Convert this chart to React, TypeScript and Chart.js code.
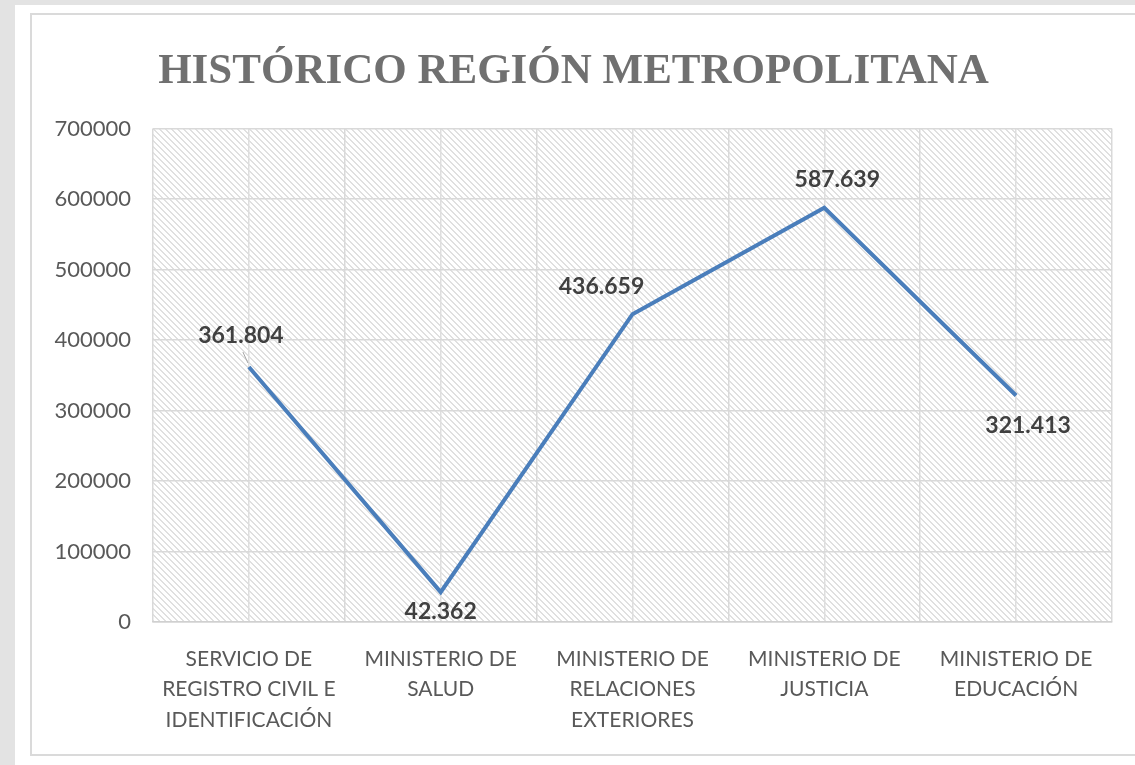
import React, { useEffect, useRef } from "react";
import { Chart, registerables } from "chart.js";

Chart.register(...registerables);

const titleText = "HISTÓRICO REGIÓN METROPOLITANA";
const categories: string[][] = [
  ["SERVICIO DE", "REGISTRO CIVIL E", "IDENTIFICACIÓN"],
  ["MINISTERIO DE", "SALUD"],
  ["MINISTERIO DE", "RELACIONES", "EXTERIORES"],
  ["MINISTERIO DE", "JUSTICIA"],
  ["MINISTERIO DE", "EDUCACIÓN"],
];
const values: number[] = [361804, 42362, 436659, 587639, 321413];
const yMin = 0;
const yMax = 700000;
const yStep = 100000;

const formatThousands = (v: number) =>
  String(v).replace(/\B(?=(\d{3})+(?!\d))/g, ".");

function makeHatch(): CanvasPattern | string {
  const s = 6;
  const c = document.createElement("canvas");
  c.width = s;
  c.height = s;
  const ctx = c.getContext("2d");
  if (!ctx) return "#f0f0f0";
  ctx.fillStyle = "#ffffff";
  ctx.fillRect(0, 0, s, s);
  ctx.fillStyle = "#e0e0e0";
  for (let i = 0; i < s; i++) {
    ctx.fillRect(i, i, 1, 1);
    ctx.fillRect((i + 1) % s, i, 1, 1);
  }
  const p = ctx.createPattern(c, "repeat");
  return p || "#f0f0f0";
}

const hatchPlugin = {
  id: "hatchBg",
  beforeDraw(chart: any) {
    const { ctx, chartArea } = chart;
    if (!chartArea) return;
    ctx.save();
    ctx.fillStyle = makeHatch();
    ctx.fillRect(
      chartArea.left,
      chartArea.top,
      chartArea.right - chartArea.left,
      chartArea.bottom - chartArea.top
    );
    ctx.restore();
  },
};

const labelOffsets = [
  [-8, -31],
  [0, 19],
  [-31, -28],
  [13, -28],
  [12, 30],
];

const dataLabelPlugin = {
  id: "valueLabels",
  afterDatasetsDraw(chart: any) {
    const { ctx } = chart;
    const meta = chart.getDatasetMeta(0);
    const ds = chart.data.datasets[0];
    ctx.save();
    ctx.font = "bold 23px Lato";
    ctx.fillStyle = "#404040";
    ctx.textAlign = "center";
    ctx.textBaseline = "middle";
    meta.data.forEach((pt: any, i: number) => {
      const [dx, dy] = labelOffsets[i];
      ctx.fillText(formatThousands(ds.data[i]), pt.x + dx, pt.y + dy);
    });
    const p0 = meta.data[0];
    if (p0) {
      ctx.strokeStyle = "#a6a6a6";
      ctx.lineWidth = 1;
      ctx.beginPath();
      ctx.moveTo(p0.x - 6, p0.y - 15);
      ctx.lineTo(p0.x - 1, p0.y - 4);
      ctx.stroke();
    }
    ctx.restore();
  },
};

export default function App() {
  const ref = useRef<HTMLCanvasElement | null>(null);

  useEffect(() => {
    if (!ref.current) return;
    const yTicksCount = (yMax - yMin) / yStep;
    const chart = new Chart(ref.current, {
      type: "line",
      data: {
        labels: categories,
        datasets: [
          {
            data: values,
            borderColor: "#4a7ebb",
            borderWidth: 4,
            pointRadius: 0,
            tension: 0,
            fill: false,
            xAxisID: "x",
            yAxisID: "y",
          },
        ],
      },
      options: {
        responsive: false,
        animation: false,
        layout: { padding: { top: 20, left: 35, right: 23, bottom: 13 } },
        plugins: {
          legend: { display: false },
          tooltip: { enabled: false },
          title: {
            display: true,
            text: titleText,
            color: "#707070",
            font: { family: "Liberation Serif", weight: "bold", size: 43 },
            padding: { top: 26, bottom: 31 },
          },
        },
        scales: {
          x: {
            type: "category",
            position: "bottom",
            offset: true,
            grid: {
              offset: true,
              color: "#d9d9d9",
              lineWidth: 1.5,
              drawTicks: false,
            },
            border: { display: true, color: "#d0d0d0", width: 1.5 },
            ticks: {
              color: "#595959",
              font: { family: "Lato", size: 21, lineHeight: 1.45 },
              padding: 22,
              maxRotation: 0,
              autoSkip: false,
            },
            afterFit(scale: any) {
              scale.height = 130;
            },
          },
          x2: {
            type: "category",
            position: "bottom",
            offset: true,
            grid: {
              offset: false,
              color: "#dedede",
              lineWidth: 1.5,
              drawTicks: false,
            },
            border: { display: false },
            ticks: { display: false },
            afterFit(scale: any) {
              scale.height = 0;
            },
          },
          y: {
            min: yMin,
            max: yMax,
            ticks: {
              stepSize: yStep,
              count: yTicksCount + 1,
              color: "#595959",
              font: { family: "Lato", size: 22 },
              padding: 22,
              callback: (v: any) => String(v),
            },
            grid: { color: "#d9d9d9", lineWidth: 1.5, drawTicks: false },
            border: { display: false },
            afterFit(scale: any) {
              scale.width = 118;
            },
          },
        },
      } as any,
      plugins: [hatchPlugin, dataLabelPlugin],
    });
    return () => chart.destroy();
  }, []);

  return (
    <div
      style={{
        position: "fixed",
        left: 0,
        top: 0,
        width: 1135,
        height: 765,
        background: "#e3e3e3",
        overflow: "hidden",
      }}
    >
      <div
        style={{
          position: "absolute",
          left: 15,
          top: 5,
          right: 0,
          bottom: 0,
          background: "#ffffff",
        }}
      />
      <div
        style={{
          position: "absolute",
          left: 30,
          top: 13,
          width: 1120,
          height: 743,
          border: "2px solid #dadada",
          boxSizing: "border-box",
        }}
      />
      <canvas
        ref={ref}
        width={1135}
        height={765}
        style={{ position: "absolute", left: 0, top: 0 }}
      />
    </div>
  );
}
